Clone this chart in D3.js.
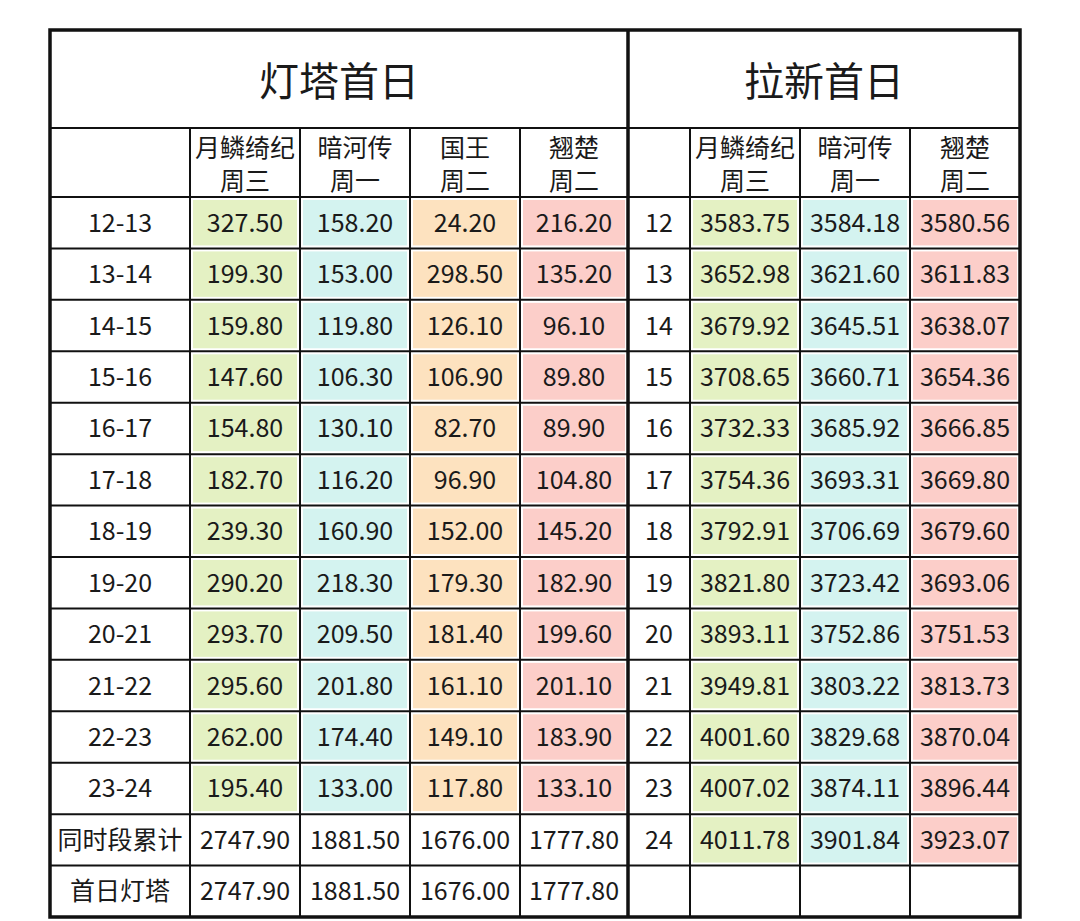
<!DOCTYPE html>
<html><head><meta charset="utf-8">
<script src="https://cdn.jsdelivr.net/npm/d3@7"></script>
<style>body{margin:0;background:#fff}</style>
</head><body>
<svg id="chart" width="1080" height="921"></svg>
<script>
const leftTitle = "灯塔首日";
const rightTitle = "拉新首日";
const leftHeaders = [["月鳞绮纪","周三"],["暗河传","周一"],["国王","周二"],["翘楚","周二"]];
const rightHeaders = [["月鳞绮纪","周三"],["暗河传","周一"],["翘楚","周二"]];
const slots = ["12-13","13-14","14-15","15-16","16-17","17-18","18-19","19-20","20-21","21-22","22-23","23-24","同时段累计","首日灯塔"];
const yueLin = ["327.50","199.30","159.80","147.60","154.80","182.70","239.30","290.20","293.70","295.60","262.00","195.40","2747.90","2747.90"];
const anHe = ["158.20","153.00","119.80","106.30","130.10","116.20","160.90","218.30","209.50","201.80","174.40","133.00","1881.50","1881.50"];
const guoWang = ["24.20","298.50","126.10","106.90","82.70","96.90","152.00","179.30","181.40","161.10","149.10","117.80","1676.00","1676.00"];
const qiaoChu = ["216.20","135.20","96.10","89.80","89.90","104.80","145.20","182.90","199.60","201.10","183.90","133.10","1777.80","1777.80"];
const hours = ["12","13","14","15","16","17","18","19","20","21","22","23","24",""];
const yueLinNew = ["3583.75","3652.98","3679.92","3708.65","3732.33","3754.36","3792.91","3821.80","3893.11","3949.81","4001.60","4007.02","4011.78",""];
const anHeNew = ["3584.18","3621.60","3645.51","3660.71","3685.92","3693.31","3706.69","3723.42","3752.86","3803.22","3829.68","3874.11","3901.84",""];
const qiaoChuNew = ["3580.56","3611.83","3638.07","3654.36","3666.85","3669.80","3679.60","3693.06","3751.53","3813.73","3870.04","3896.44","3923.07",""];

const green = "#e4f1c3", cyan = "#d4f3f0", orange = "#fde2bf", pink = "#fccec9";
const font = "'Noto Sans CJK SC', 'Noto Sans', sans-serif";

const svg = d3.select("#chart");
const colX = [50,190,300,410,520,628,690,800,910,1020];
const tableTop = 30, titleBottom = 128, headerBottom = 197, tableBottom = 917;
const y = d3.scaleBand().domain(d3.range(slots.length)).range([headerBottom, tableBottom]);

// columns: [column index, values, fill color, number of colored rows]
const cols = [
  [0, slots, null, 12], [1, yueLin, green, 12], [2, anHe, cyan, 12], [3, guoWang, orange, 12], [4, qiaoChu, pink, 12],
  [5, hours, null, 0], [6, yueLinNew, green, 13], [7, anHeNew, cyan, 13], [8, qiaoChuNew, pink, 13]
];

cols.forEach(([c, vals, fill, nColored]) => {
  const x0 = colX[c], x1 = colX[c + 1];
  vals.forEach((v, i) => {
    if (fill && i < nColored) {
      svg.append("rect").attr("x", x0 + 3).attr("y", y(i) + 3)
        .attr("width", x1 - x0 - 6).attr("height", y.bandwidth() - 6).attr("fill", fill);
    }
    svg.append("text").attr("x", (x0 + x1) / 2).attr("y", y(i) + y.bandwidth() / 2 + 9)
      .attr("text-anchor", "middle").attr("font-family", font).attr("font-size", 25)
      .attr("fill", "#1a1a1a").text(v);
  });
});

// headers
function header(list, start) {
  list.forEach((h, k) => {
    const cx = (colX[start + k] + colX[start + k + 1]) / 2;
    h.forEach((t, j) => svg.append("text").attr("x", cx).attr("y", 157 + j * 33)
      .attr("text-anchor", "middle").attr("font-family", font).attr("font-size", 25)
      .attr("fill", "#1a1a1a").text(t));
  });
}
header(leftHeaders, 1);
header(rightHeaders, 6);

svg.append("text").attr("x", (colX[0] + colX[5]) / 2).attr("y", 96).attr("text-anchor", "middle")
  .attr("font-family", font).attr("font-size", 40).attr("fill", "#1a1a1a").text(leftTitle);
svg.append("text").attr("x", (colX[5] + colX[9]) / 2).attr("y", 96).attr("text-anchor", "middle")
  .attr("font-family", font).attr("font-size", 40).attr("fill", "#1a1a1a").text(rightTitle);

// grid lines
const line = (x1, y1, x2, y2, w) => svg.append("line").attr("x1", x1).attr("y1", y1)
  .attr("x2", x2).attr("y2", y2).attr("stroke", "#111").attr("stroke-width", w);
line(colX[0], titleBottom, colX[9], titleBottom, 2);
d3.range(slots.length).forEach(i => line(colX[0], y(i), colX[9], y(i), 2));
colX.slice(1, 9).forEach((x, k) => { if (k !== 4) line(x, titleBottom, x, tableBottom, 2); });
line(colX[5], tableTop, colX[5], tableBottom, 3.5);
svg.append("rect").attr("x", colX[0]).attr("y", tableTop).attr("width", colX[9] - colX[0])
  .attr("height", tableBottom - tableTop).attr("fill", "none").attr("stroke", "#111").attr("stroke-width", 3.5);
</script>
</body></html>
